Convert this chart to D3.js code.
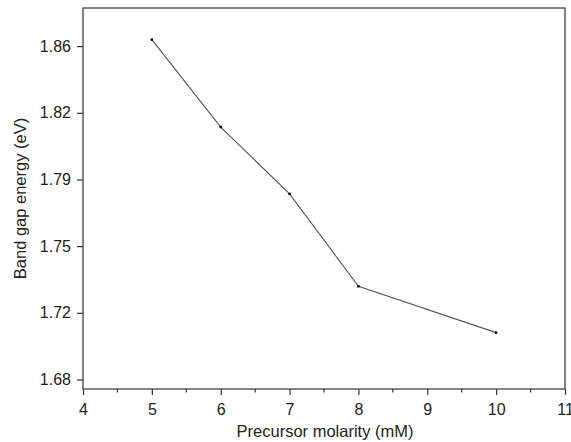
<!DOCTYPE html>
<html><head><meta charset="utf-8">
<script src="https://cdn.jsdelivr.net/npm/d3@7"></script>
<style>body{margin:0;background:#fff}svg text{font-family:"Liberation Sans",Arial,sans-serif;fill:#222}</style>
</head><body>
<svg id="c" width="571" height="442"></svg>
<script>
const molarity = [5, 6, 7, 8, 10];
const bandGap = [1.8584, 1.8125, 1.7774, 1.7289, 1.7046];
const xTicks = [4, 5, 6, 7, 8, 9, 10, 11];
const yTicks = [1.68, 1.715, 1.75, 1.785, 1.82, 1.855];

const svg = d3.select("#c");
const L = 83, R = 565, T = 8, B = 389;
const x = d3.scaleLinear().domain([4, 11]).range([L, R]);
const y = d3.scaleLinear().domain([1.675, 1.875]).range([B, T]);

// frame
svg.append("rect").attr("x", L).attr("y", T).attr("width", R - L).attr("height", B - T)
  .attr("fill", "none").attr("stroke", "#333").attr("stroke-width", 1.2);

// x axis
const xa = svg.append("g").attr("transform", `translate(0,${B})`)
  .call(d3.axisBottom(x).tickValues(xTicks).tickFormat(d3.format("d")).tickSize(6).tickPadding(9));
xa.select(".domain").remove();
xa.selectAll("line").attr("stroke", "#333").attr("stroke-width", 1.2);
xa.selectAll("text").attr("font-size", 16).attr("fill", "#222");
const minor = d3.range(4.5, 11, 1);
svg.append("g").selectAll("line").data(minor).join("line")
  .attr("x1", d => x(d)).attr("x2", d => x(d)).attr("y1", B).attr("y2", B + 3.5)
  .attr("stroke", "#333").attr("stroke-width", 1.2);

// y axis
const fmt2 = d => (Math.round(d * 100 + 1e-6) / 100).toFixed(2);
const ya = svg.append("g").attr("transform", `translate(${L},0)`)
  .call(d3.axisLeft(y).tickValues(yTicks).tickFormat(fmt2).tickSize(6).tickPadding(6));
ya.select(".domain").remove();
ya.selectAll("line").attr("stroke", "#333").attr("stroke-width", 1.2);
ya.selectAll("text").attr("font-size", 16).attr("fill", "#222");

// titles
svg.append("text").attr("x", (L + R) / 2 + 1).attr("y", 437).attr("text-anchor", "middle")
  .attr("font-size", 16.5).text("Precursor molarity (mM)");
svg.append("text").attr("transform", `translate(26,${(T + B) / 2}) rotate(-90)`)
  .attr("text-anchor", "middle").attr("font-size", 16.5).text("Band gap energy (eV)");

// line
const data = molarity.map((m, i) => ({ m, v: bandGap[i] }));
svg.append("path").datum(data)
  .attr("d", d3.line().x(d => x(d.m)).y(d => y(d.v)))
  .attr("fill", "none").attr("stroke", "#555").attr("stroke-width", 1.1);
svg.append("g").selectAll("rect").data(data).join("rect")
  .attr("x", d => x(d.m) - 1.2).attr("y", d => y(d.v) - 1.2)
  .attr("width", 2.4).attr("height", 2.4).attr("fill", "#000");
</script>
</body></html>
